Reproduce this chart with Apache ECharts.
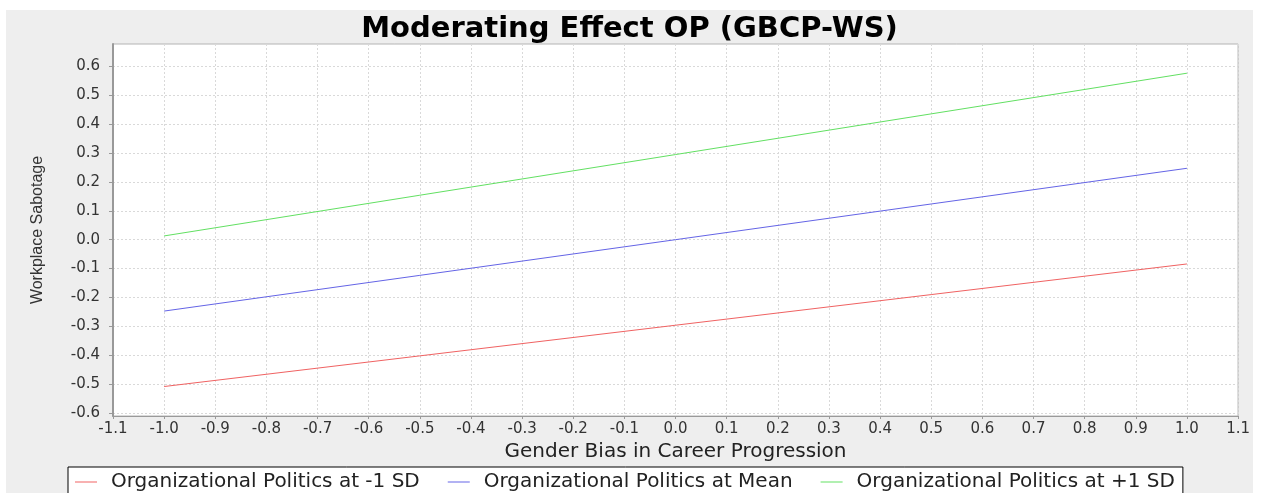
<!DOCTYPE html>
<html>
<head>
<meta charset="utf-8">
<title>Moderating Effect OP (GBCP-WS)</title>
<script src="https://cdn.jsdelivr.net/npm/echarts@6/dist/echarts.min.js"></script>
<style>
  html, body { margin: 0; padding: 0; background: #ffffff; }
  body { width: 1264px; height: 493px; position: relative; overflow: hidden; }
  #chart { position: absolute; left: 6px; top: 10px; width: 1247px; height: 483px; }
</style>
</head>
<body>
<div id="chart"></div>
<script>
// Simple slopes: predicted Workplace Sabotage at low / high Gender Bias (-1, +1)
const xValues = [-1.0, 1.0];
const seriesNames = [
  'Organizational Politics at -1 SD',
  'Organizational Politics at Mean',
  'Organizational Politics at +1 SD'
];
const lowSD  = [-0.508, -0.084];
const meanOP = [-0.247,  0.247];
const highSD = [ 0.013,  0.576];
const lineColors = ['#f06262', '#6464e6', '#62e062'];

const titleText = 'Moderating Effect OP (GBCP-WS)';
const xAxisTitle = 'Gender Bias in Career Progression';
const yAxisTitle = 'Workplace Sabotage';

const pairs = vals => xValues.map((x, i) => [x, vals[i]]);
const seriesValues = [lowSD, meanOP, highSD];

// one-decimal tick text; blank for the unrounded range ends
const fmt1 = v => {
  const r = Math.round(v * 10);
  if (Math.abs(v * 10 - r) > 1e-6) return '';
  return (r === 0 ? 0 : r / 10).toFixed(1);
};

const chart = echarts.init(document.getElementById('chart'), null, { renderer: 'canvas' });

chart.setOption({
  backgroundColor: '#eeeeee',
  animation: false,
  title: {
    text: titleText,
    left: 'center',
    top: 0,
    textStyle: { fontFamily: 'DejaVu Sans', fontWeight: 'bold', fontSize: 29, color: '#000000' }
  },
  legend: {
    left: 62,
    top: 457,
    orient: 'horizontal',
    backgroundColor: '#ffffff',
    borderColor: '#000000',
    borderWidth: 1,
    borderRadius: 0,
    padding: [5, 8, 20, 7],
    itemGap: 28,
    itemWidth: 22,
    itemHeight: 1,
    icon: 'rect',
    textStyle: { fontFamily: 'DejaVu Sans', fontSize: 20, color: '#222222', padding: [0, 0, 0, 9] },
    data: seriesNames
  },
  grid: {
    left: 107,
    right: 14,
    top: 34,
    bottom: 77,
    show: true,
    backgroundColor: '#ffffff',
    borderColor: '#b4b4b4',
    borderWidth: 1,
    containLabel: false
  },
  xAxis: {
    type: 'value',
    min: -1.1,
    max: 1.1,
    interval: 0.1,
    name: xAxisTitle,
    nameLocation: 'middle',
    nameGap: 24,
    nameTextStyle: { fontFamily: 'DejaVu Sans', fontSize: 20, color: '#222222' },
    axisLine: { show: true, onZero: false, lineStyle: { color: '#9a9a9a', width: 1 } },
    axisTick: { show: true, inside: false, length: 3, lineStyle: { color: '#9a9a9a' } },
    axisLabel: {
      margin: 6,
      fontFamily: 'DejaVu Sans',
      fontSize: 15,
      color: '#333333',
      formatter: fmt1
    },
    splitLine: { show: true, lineStyle: { color: '#d9d9d9', width: 1, type: [2, 2] } }
  },
  yAxis: {
    type: 'value',
    min: -0.61,
    max: 0.677,
    splitNumber: 12,
    name: yAxisTitle,
    nameLocation: 'middle',
    nameRotate: 90,
    nameGap: 67,
    nameTextStyle: { fontFamily: 'Liberation Sans', fontSize: 16, color: '#333333' },
    axisLine: { show: true, onZero: false, lineStyle: { color: '#999999', width: 2 } },
    axisTick: { show: true, inside: false, length: 4, lineStyle: { color: '#999999' } },
    axisLabel: {
      margin: 13,
      showMinLabel: false,
      showMaxLabel: false,
      fontFamily: 'DejaVu Sans',
      fontSize: 15,
      color: '#333333',
      formatter: fmt1
    },
    splitLine: { show: true, lineStyle: { color: '#d9d9d9', width: 1, type: [2, 2] } }
  },
  series: seriesNames.map((name, i) => ({
    name: name,
    type: 'line',
    data: pairs(seriesValues[i]),
    showSymbol: false,
    symbol: 'none',
    color: lineColors[i],
    lineStyle: { color: lineColors[i], width: 1 },
    emphasis: { disabled: true }
  }))
});
</script>
</body>
</html>
